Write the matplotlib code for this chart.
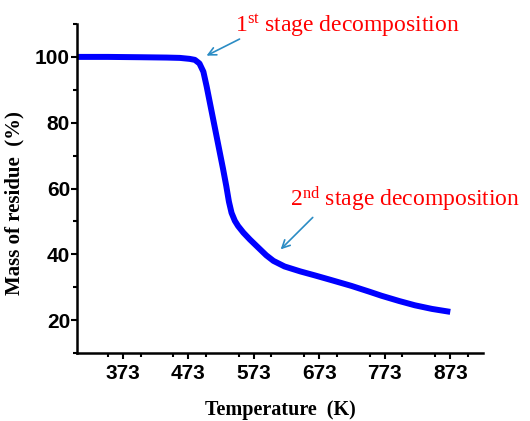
import matplotlib
matplotlib.use("Agg")
import matplotlib.pyplot as plt
from matplotlib.ticker import MultipleLocator

temperature = [303, 350, 400, 440, 460, 475, 483, 490, 496, 501, 506, 511, 516, 521,
               526, 531, 535, 539, 544, 549, 557, 567, 580, 592, 603, 620,
               644, 666, 689, 722, 750, 768, 795, 819, 845, 873]
mass = [100.0, 100.0, 99.9, 99.8, 99.7, 99.4, 99.1, 98.0, 95.5, 91.0, 86.0, 81.0, 76.0, 71.0,
        66.0, 60.7, 56.0, 52.6, 50.2, 48.6, 46.6, 44.5, 42.0, 39.7, 38.0, 36.3,
        34.8, 33.6, 32.3, 30.4, 28.6, 27.4, 25.8, 24.5, 23.4, 22.5]

x_ticks = [373, 473, 573, 673, 773, 873]
y_ticks = [20, 40, 60, 80, 100]

plt.rcParams['font.family'] = ['Liberation Sans', 'DejaVu Sans']
plt.rcParams['mathtext.fontset'] = 'custom'
plt.rcParams['mathtext.rm'] = 'Liberation Serif'
plt.rcParams['mathtext.it'] = 'Liberation Serif:italic'
plt.rcParams['mathtext.bf'] = 'Liberation Serif:bold'

fig = plt.figure(figsize=(5.30, 4.21), dpi=100)
ax = fig.add_axes([77/530, 1-353/421, (483-77)/530, (353-24)/421])

ax.plot(temperature, mass, color='#0000ff', lw=4.3, solid_capstyle='butt', solid_joinstyle='round')

ax.set_xlim(303, 923)
ax.set_ylim(10, 110)
ax.set_xticks(x_ticks)
ax.set_yticks(y_ticks)
ax.xaxis.set_minor_locator(MultipleLocator(50))
ax.yaxis.set_minor_locator(MultipleLocator(10))
for s in ['top', 'right']:
    ax.spines[s].set_visible(False)
for s in ['left', 'bottom']:
    ax.spines[s].set_linewidth(1.8)
ax.tick_params(which='major', direction='out', length=4, width=1.5, labelsize=15)
ax.tick_params(axis='x', which='major', pad=4)
ax.tick_params(axis='y', which='major', pad=1)
ax.tick_params(which='minor', direction='out', length=3, width=1.5)
for lbl in ax.get_xticklabels() + ax.get_yticklabels():
    lbl.set_fontweight('bold')

ax.set_xlabel('Temperature  (K)', fontfamily='Liberation Serif', fontweight='bold', fontsize=14.5, labelpad=12)
ax.set_ylabel('Mass of residue  (%)', fontfamily='Liberation Serif', fontweight='bold', fontsize=15)
ax.yaxis.set_label_coords(-53/406, (353-203)/329)

arrow_color = '#2b8cc4'
ax.annotate('', xy=(497, 100), xytext=(555, 105.8),
            arrowprops=dict(arrowstyle='->', color=arrow_color, lw=1.2, mutation_scale=14),
            annotation_clip=False)
ax.annotate('', xy=(611, 40.9), xytext=(666, 51.8),
            arrowprops=dict(arrowstyle='->', color=arrow_color, lw=1.2, mutation_scale=14),
            annotation_clip=False)
ax.text(544, 107.6, r'1$^{\mathrm{st}}$ stage decomposition', color='red', fontsize=17,
        fontfamily='Liberation Serif', va='baseline', ha='left', clip_on=False)
ax.text(628, 54.5, r'2$^{\mathrm{nd}}$ stage decomposition', color='red', fontsize=17,
        fontfamily='Liberation Serif', va='baseline', ha='left', clip_on=False)

fig.savefig('out.png', dpi=100)
